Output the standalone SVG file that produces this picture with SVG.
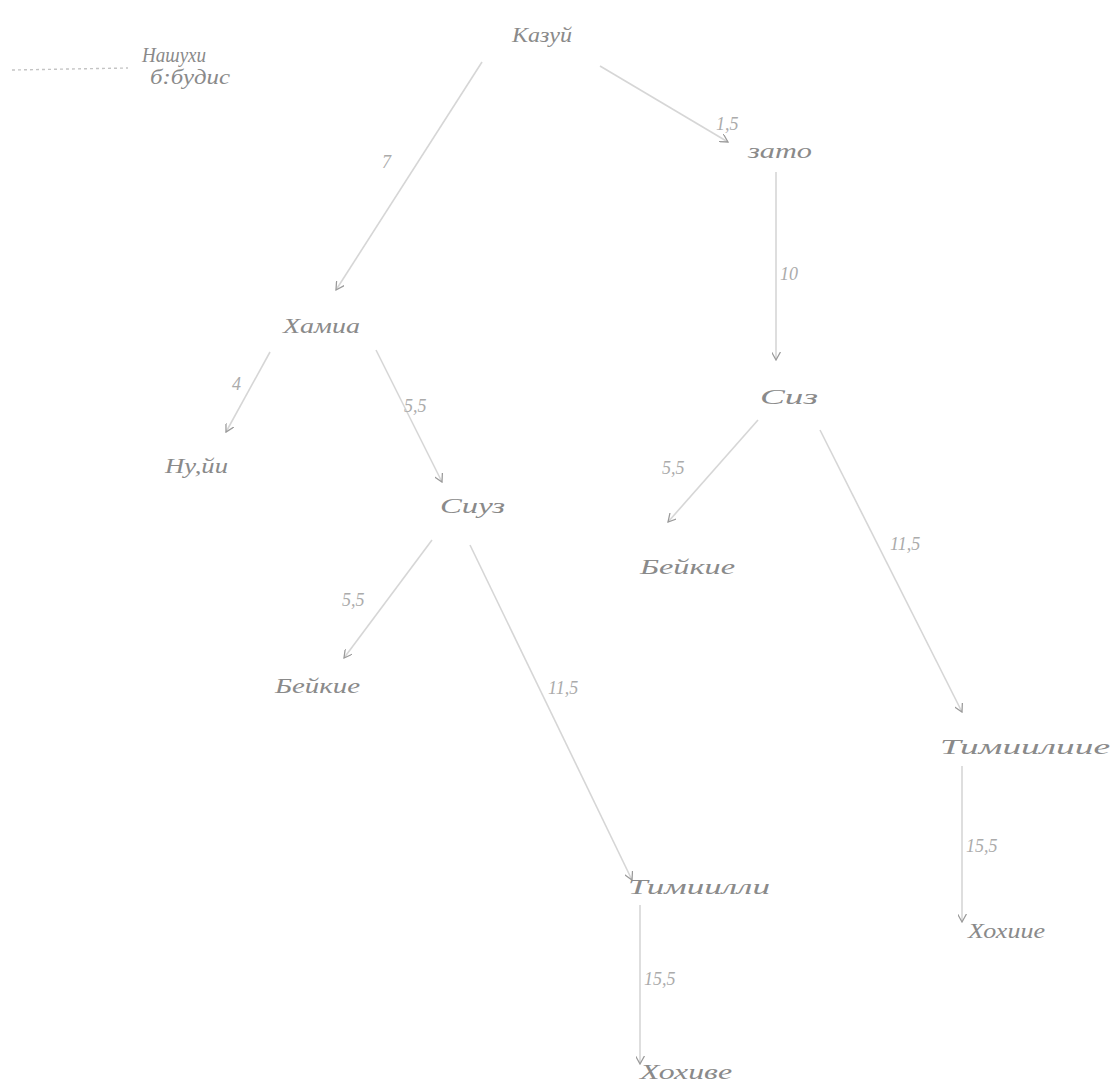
<svg xmlns="http://www.w3.org/2000/svg" width="1113" height="1088" viewBox="0 0 1113 1088">
<style>
text{font-family:"Liberation Serif","DejaVu Serif",serif;font-style:italic;fill:#8a8a8a;font-size:21px}
.lbl{font-size:18px;fill:#ababab}
.e{stroke:#d6d6d6;stroke-width:1.6;fill:none}
.d{stroke:#c4c4c4;stroke-width:1.4;stroke-dasharray:3 3;fill:none}
</style>
<defs>
<marker id="a" viewBox="0 0 10 10" refX="9" refY="5" markerWidth="9" markerHeight="9" orient="auto" markerUnits="userSpaceOnUse">
<path d="M0,0 L9,5 L0,10" fill="none" stroke="#9a9a9a" stroke-width="1.4"/>
</marker>
</defs>
<rect width="1113" height="1088" fill="#fff"/>
<g id="legend">
<line class="d" x1="12" y1="70" x2="128" y2="68"/>
<text x="142" y="62" font-size="15" textLength="64" lengthAdjust="spacingAndGlyphs">Нашухи</text>
<text x="150" y="84" font-size="16" textLength="80" lengthAdjust="spacingAndGlyphs">б:будис</text>
</g>
<g id="connectors">
<line class="e" x1="482" y1="62" x2="336" y2="290" marker-end="url(#a)"/>
<text class="lbl" x="382" y="168">7</text>
<line class="e" x1="600" y1="66" x2="728" y2="142" marker-end="url(#a)"/>
<text class="lbl" x="716" y="130">1,5</text>
<line class="e" x1="776" y1="172" x2="776" y2="360" marker-end="url(#a)"/>
<text class="lbl" x="780" y="280">10</text>
<line class="e" x1="270" y1="352" x2="226" y2="432" marker-end="url(#a)"/>
<text class="lbl" x="232" y="390">4</text>
<line class="e" x1="376" y1="350" x2="442" y2="482" marker-end="url(#a)"/>
<text class="lbl" x="404" y="412">5,5</text>
<line class="e" x1="432" y1="540" x2="344" y2="658" marker-end="url(#a)"/>
<text class="lbl" x="342" y="606">5,5</text>
<line class="e" x1="470" y1="545" x2="632" y2="880" marker-end="url(#a)"/>
<text class="lbl" x="548" y="694">11,5</text>
<line class="e" x1="640" y1="905" x2="640" y2="1064" marker-end="url(#a)"/>
<text class="lbl" x="644" y="985">15,5</text>
<line class="e" x1="758" y1="420" x2="668" y2="522" marker-end="url(#a)"/>
<text class="lbl" x="662" y="474">5,5</text>
<line class="e" x1="820" y1="430" x2="962" y2="712" marker-end="url(#a)"/>
<text class="lbl" x="890" y="550">11,5</text>
<line class="e" x1="962" y1="766" x2="962" y2="922" marker-end="url(#a)"/>
<text class="lbl" x="966" y="852">15,5</text>
</g>
<g id="n-root"><text x="512" y="42" textLength="60" lengthAdjust="spacingAndGlyphs">Казуй</text></g>
<g id="n-zato"><text x="748" y="158" textLength="64" lengthAdjust="spacingAndGlyphs">зато</text></g>
<g id="n-hamia"><text x="283" y="333" textLength="77" lengthAdjust="spacingAndGlyphs">Хамиа</text></g>
<g id="n-nuyi"><text x="165" y="473" textLength="63" lengthAdjust="spacingAndGlyphs">Ну,йи</text></g>
<g id="n-siuz"><text x="440" y="513" textLength="65" lengthAdjust="spacingAndGlyphs">Сиуз</text></g>
<g id="n-beikie-l"><text x="275" y="693" textLength="85" lengthAdjust="spacingAndGlyphs">Бейкие</text></g>
<g id="n-timi-l"><text x="628" y="894" textLength="142" lengthAdjust="spacingAndGlyphs">Тимиилли</text></g>
<g id="n-hohive-l"><text x="640" y="1079" textLength="92" lengthAdjust="spacingAndGlyphs">Хохиве</text></g>
<g id="n-siz"><text x="760" y="404" font-size="24" textLength="58" lengthAdjust="spacingAndGlyphs">Сиз</text></g>
<g id="n-beikie-r"><text x="640" y="574" textLength="95" lengthAdjust="spacingAndGlyphs">Бейкие</text></g>
<g id="n-timi-r"><text x="940" y="754" textLength="170" lengthAdjust="spacingAndGlyphs">Тимиилиие</text></g>
<g id="n-hohive-r"><text x="968" y="938" textLength="77" lengthAdjust="spacingAndGlyphs">Хохиие</text></g>
</svg>
